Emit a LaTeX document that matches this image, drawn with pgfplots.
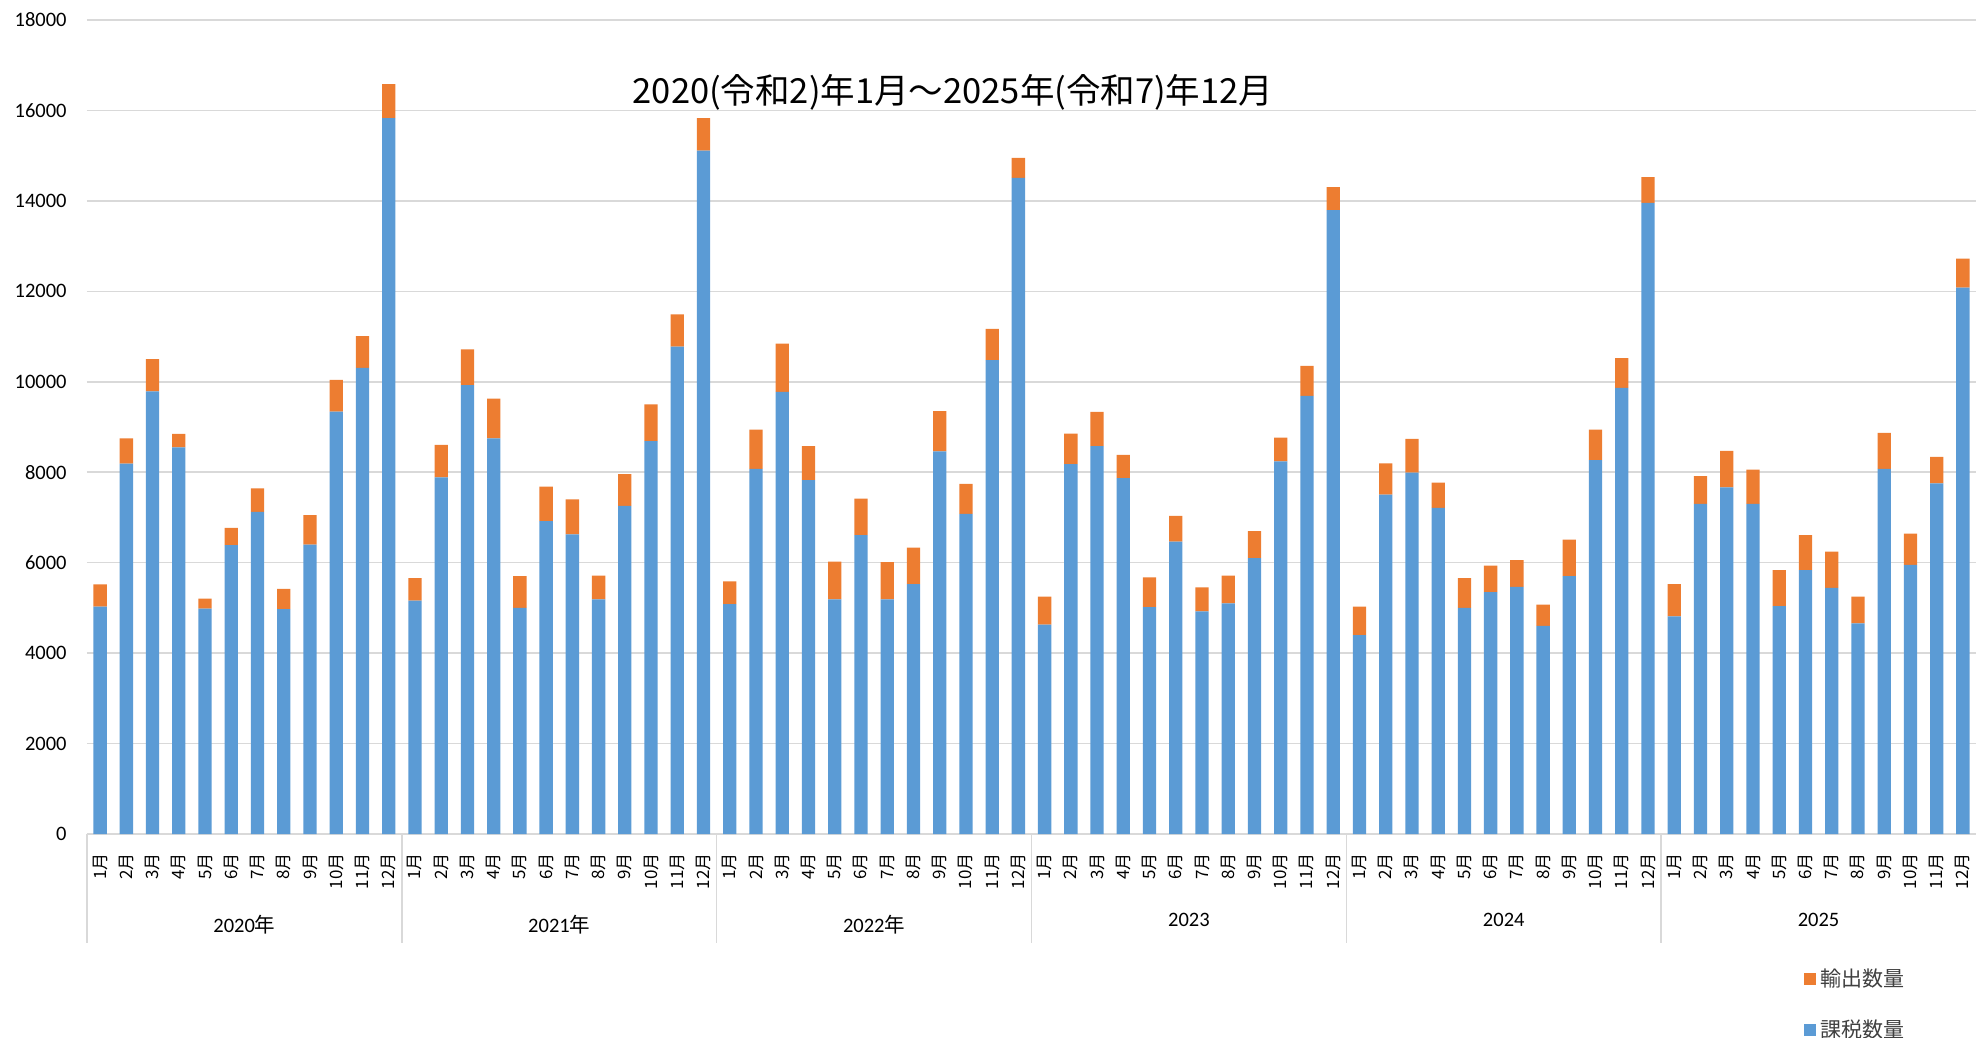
\documentclass[border=0pt]{standalone}
\usepackage{pgfplots}
\pgfplotsset{compat=1.18}
\usepackage{pgfplotstable}
\usepackage{fontspec}
\setmainfont{Carlito}
\newfontfamily\cjk{Noto Sans CJK JP}
\definecolor{cblue}{HTML}{5B9BD5}
\definecolor{corange}{HTML}{ED7D31}
\definecolor{gridc}{HTML}{D9D9D9}

% x = month index (0 = 2020/1), tax = 課税数量, exp = 輸出数量
\pgfplotstableread{
x tax exp
0 5030 490
1 8190 560
2 9790 710
3 8550 300
4 4985 220
5 6390 380
6 7125 515
7 4970 450
8 6400 650
9 9340 700
10 10305 705
11 15830 750
12 5160 500
13 7885 720
14 9925 790
15 8750 880
16 5000 700
17 6920 760
18 6625 775
19 5190 525
20 7255 705
21 8690 810
22 10775 715
23 15110 720
24 5085 500
25 8075 865
26 9775 1070
27 7825 750
28 5190 835
29 6610 805
30 5190 820
31 5525 805
32 8460 890
33 7080 660
34 10480 690
35 14510 440
36 4630 620
37 8180 675
38 8575 760
39 7870 515
40 5015 660
41 6465 570
42 4925 530
43 5100 615
44 6100 600
45 8240 525
46 9690 660
47 13795 510
48 4395 635
49 7505 690
50 7990 745
51 7210 560
52 5000 660
53 5350 585
54 5465 590
55 4605 465
56 5700 810
57 8265 675
58 9865 660
59 13955 570
60 4810 715
61 7300 615
62 7665 805
63 7300 760
64 5040 795
65 5835 775
66 5440 805
67 4660 590
68 8075 795
69 5950 690
70 7755 585
71 12080 645
}\data

\begin{document}
\begin{tikzpicture}
\begin{axis}[
  at={(0,0)}, anchor=south west,
  scale only axis, width=944.5pt, height=407pt,
  xmin=-0.5, xmax=71.5, ymin=0, ymax=18000,
  ybar stacked, bar width=6.65pt,
  clip=false,
  xtick=data,
  xticklabels={1月,2月,3月,4月,5月,6月,7月,8月,9月,10月,11月,12月,
               1月,2月,3月,4月,5月,6月,7月,8月,9月,10月,11月,12月,
               1月,2月,3月,4月,5月,6月,7月,8月,9月,10月,11月,12月,
               1月,2月,3月,4月,5月,6月,7月,8月,9月,10月,11月,12月,
               1月,2月,3月,4月,5月,6月,7月,8月,9月,10月,11月,12月,
               1月,2月,3月,4月,5月,6月,7月,8月,9月,10月,11月,12月},
  xticklabel style={rotate=90, anchor=east, inner sep=0pt,
                    font=\cjk\fontsize{8.5}{9}\selectfont},
  xticklabel shift=9.5pt,
  ytick={0,2000,...,18000},
  yticklabel style={inner sep=0pt, font=\fontsize{10.25}{12}\selectfont},
  yticklabel shift=10pt,
  /pgf/number format/assume math mode=true,
  /pgf/number format/1000 sep={},
  scaled y ticks=false,
  major tick length=0pt,
  tick style={draw=none},
  ymajorgrids, grid style={draw=gridc, line width=0.75pt},
  separate axis lines,
  axis x line*=bottom, axis y line*=left,
  x axis line style={draw=gridc, line width=0.75pt},
  y axis line style={draw=none},
  reverse legend,
  legend style={draw=none, fill=none, at={(0.9089,-0.2095)}, anchor=west,
                inner sep=0pt, row sep=11pt, legend cell align=left,
                font=\cjk\fontsize{10.5}{12}\selectfont, text=black!75},
]
\addplot[fill=cblue, draw=none,
  legend image code/.code={\fill[cblue] (0pt,-3pt) rectangle (6pt,3pt);}]
  table[x=x, y=tax] {\data};
\addlegendentry{課税数量}
\addplot[fill=corange, draw=none,
  legend image code/.code={\fill[corange] (0pt,-3pt) rectangle (6pt,3pt);}]
  table[x=x, y=exp] {\data};
\addlegendentry{輸出数量}

\draw[gridc, line width=0.75pt] (axis cs:-0.5,0) -- ++(0pt,-54.5pt);
\draw[gridc, line width=0.75pt] (axis cs:11.5,0) -- ++(0pt,-54.5pt);
\draw[gridc, line width=0.75pt] (axis cs:23.5,0) -- ++(0pt,-54.5pt);
\draw[gridc, line width=0.75pt] (axis cs:35.5,0) -- ++(0pt,-54.5pt);
\draw[gridc, line width=0.75pt] (axis cs:47.5,0) -- ++(0pt,-54.5pt);
\draw[gridc, line width=0.75pt] (axis cs:59.5,0) -- ++(0pt,-54.5pt);
\node[font=\fontsize{10.25}{12}\selectfont] at (axis cs:5.5,0) [yshift=-45.5pt] {2020{\cjk 年}};
\node[font=\fontsize{10.25}{12}\selectfont] at (axis cs:17.5,0) [yshift=-45.5pt] {2021{\cjk 年}};
\node[font=\fontsize{10.25}{12}\selectfont] at (axis cs:29.5,0) [yshift=-45.5pt] {2022{\cjk 年}};
\node[font=\fontsize{10.25}{12}\selectfont] at (axis cs:41.5,0) [yshift=-43pt] {2023};
\node[font=\fontsize{10.25}{12}\selectfont] at (axis cs:53.5,0) [yshift=-43pt] {2024};
\node[font=\fontsize{10.25}{12}\selectfont] at (axis cs:65.5,0) [yshift=-43pt] {2025};
\end{axis}
\node[font=\cjk\fontsize{17.25}{20}\selectfont] at (433pt,371pt) {2020(令和2)年1月～2025年(令和7)年12月};
\pgfresetboundingbox
\useasboundingbox (-43.5pt,-102pt) rectangle (944.5pt,417pt);
\end{tikzpicture}
\end{document}
